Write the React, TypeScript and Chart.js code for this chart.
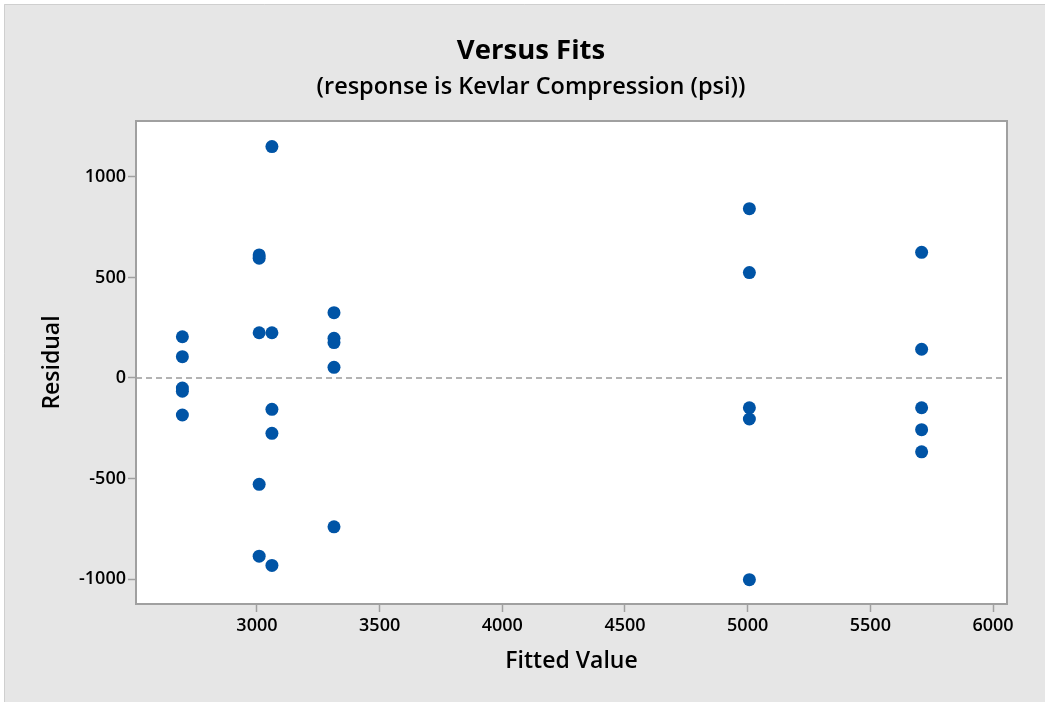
import React, { useEffect, useRef } from "react";
import { Chart, registerables } from "chart.js";

Chart.register(...registerables);

const FIT_2696 = [205, 106, -50, -66, -184];
const FIT_3009 = [612, 596, 225, -529, -886];
const FIT_3061 = [1151, 225, -156, -275, -932];
const FIT_3314 = [325, 197, 176, 53, -740];
const FIT_5007 = [842, 524, -148, -204, -1003];
const FIT_5709 = [625, 143, -148, -257, -367];

const FITTED_VALUES = [2696, 3009, 3061, 3314, 5007, 5709];
const RESIDUAL_GROUPS = [FIT_2696, FIT_3009, FIT_3061, FIT_3314, FIT_5007, FIT_5709];

const X_TICKS = [3000, 3500, 4000, 4500, 5000, 5500, 6000];
const Y_TICKS = [-1000, -500, 0, 500, 1000];

const TITLE = "Versus Fits";
const SUBTITLE = "(response is Kevlar Compression (psi))";
const X_TITLE = "Fitted Value";
const Y_TITLE = "Residual";

const FONT = "'Open Sans', 'Noto Sans', sans-serif";

export default function App() {
  const ref = useRef<HTMLCanvasElement | null>(null);

  useEffect(() => {
    const canvas = ref.current;
    if (!canvas) return;

    const points: { x: number; y: number }[] = [];
    FITTED_VALUES.forEach((fv, i) => {
      RESIDUAL_GROUPS[i].forEach((r) => points.push({ x: fv, y: r }));
    });

    const decor = {
      id: "decor",
      beforeDraw(chart: any) {
        const { ctx, width, height, chartArea } = chart;
        ctx.save();
        ctx.fillStyle = "#ffffff";
        ctx.fillRect(0, 0, width, height);
        ctx.fillStyle = "#e6e6e6";
        ctx.fillRect(4, 4, width - 4, height - 4);
        ctx.strokeStyle = "#cfcfcf";
        ctx.lineWidth = 1;
        ctx.beginPath();
        ctx.moveTo(4.5, height);
        ctx.lineTo(4.5, 4.5);
        ctx.lineTo(width, 4.5);
        ctx.stroke();
        ctx.fillStyle = "#ffffff";
        ctx.fillRect(
          chartArea.left,
          chartArea.top,
          chartArea.right - chartArea.left,
          chartArea.bottom - chartArea.top
        );
        // titles
        ctx.fillStyle = "#000000";
        ctx.textAlign = "center";
        ctx.textBaseline = "middle";
        ctx.font = `700 27.5px ${FONT}`;
        ctx.fillText(TITLE, 531, 51);
        ctx.font = `600 23.5px ${FONT}`;
        ctx.fillText(SUBTITLE, 531, 87);
        ctx.font = `600 23px ${FONT}`;
        ctx.fillText(X_TITLE, (chartArea.left + chartArea.right) / 2, 661);
        ctx.save();
        ctx.translate(52, (chartArea.top + chartArea.bottom) / 2);
        ctx.rotate(-Math.PI / 2);
        ctx.fillText(Y_TITLE, 0, 0);
        ctx.restore();
        ctx.restore();
      },
      beforeDatasetsDraw(chart: any) {
        const { ctx, chartArea, scales } = chart;
        ctx.save();
        const y0 = scales.y.getPixelForValue(0);
        ctx.strokeStyle = "#9a9a9a";
        ctx.lineWidth = 1.5;
        ctx.setLineDash([6, 4]);
        ctx.beginPath();
        ctx.moveTo(chartArea.left, y0);
        ctx.lineTo(chartArea.right, y0);
        ctx.stroke();
        ctx.setLineDash([]);
        ctx.strokeStyle = "#a0a0a0";
        ctx.lineWidth = 2;
        ctx.strokeRect(
          chartArea.left,
          chartArea.top,
          chartArea.right - chartArea.left,
          chartArea.bottom - chartArea.top
        );
        ctx.restore();
      },
    };

    const chart = new Chart(canvas, {
      type: "scatter",
      data: {
        datasets: [
          {
            data: points,
            backgroundColor: "#0054a6",
            borderWidth: 0,
            pointRadius: 6.5,
            pointHoverRadius: 6.5,
          },
        ],
      },
      options: {
        animation: false,
        responsive: false,
        events: [],
        layout: { padding: { top: 121, right: 38, left: 0, bottom: 0 } },
        plugins: {
          legend: { display: false },
          tooltip: { enabled: false },
          title: { display: false },
        },
        scales: {
          x: {
            type: "linear",
            min: 2507,
            max: 6057,
            afterFit(scale: any) {
              scale.height = 98;
            },
            afterBuildTicks(scale: any) {
              scale.ticks = X_TICKS.map((v) => ({ value: v }));
            },
            grid: {
              drawOnChartArea: false,
              drawTicks: true,
              tickLength: 8,
              tickColor: "#a0a0a0",
              tickWidth: 1.5,
            },
            border: { display: false },
            ticks: {
              color: "#000000",
              padding: 3,
              maxRotation: 0,
              font: { family: FONT, size: 18, weight: "600" as any },
              callback: (v: any) => String(v),
            },
          },
          y: {
            type: "linear",
            min: -1124,
            max: 1278,
            afterFit(scale: any) {
              scale.width = 136;
            },
            afterBuildTicks(scale: any) {
              scale.ticks = Y_TICKS.map((v) => ({ value: v }));
            },
            grid: {
              drawOnChartArea: false,
              drawTicks: true,
              tickLength: 8,
              tickColor: "#a0a0a0",
              tickWidth: 1.5,
            },
            border: { display: false },
            ticks: {
              color: "#000000",
              padding: 2,
              font: { family: FONT, size: 18, weight: "600" as any },
              callback: (v: any) => String(v),
            },
          },
        },
      },
      plugins: [decor],
    });

    return () => chart.destroy();
  }, []);

  return (
    <div style={{ position: "fixed", left: 0, top: 0, width: 1045, height: 702 }}>
      <canvas ref={ref} width={1045} height={702} style={{ width: 1045, height: 702, display: "block" }} />
    </div>
  );
}
